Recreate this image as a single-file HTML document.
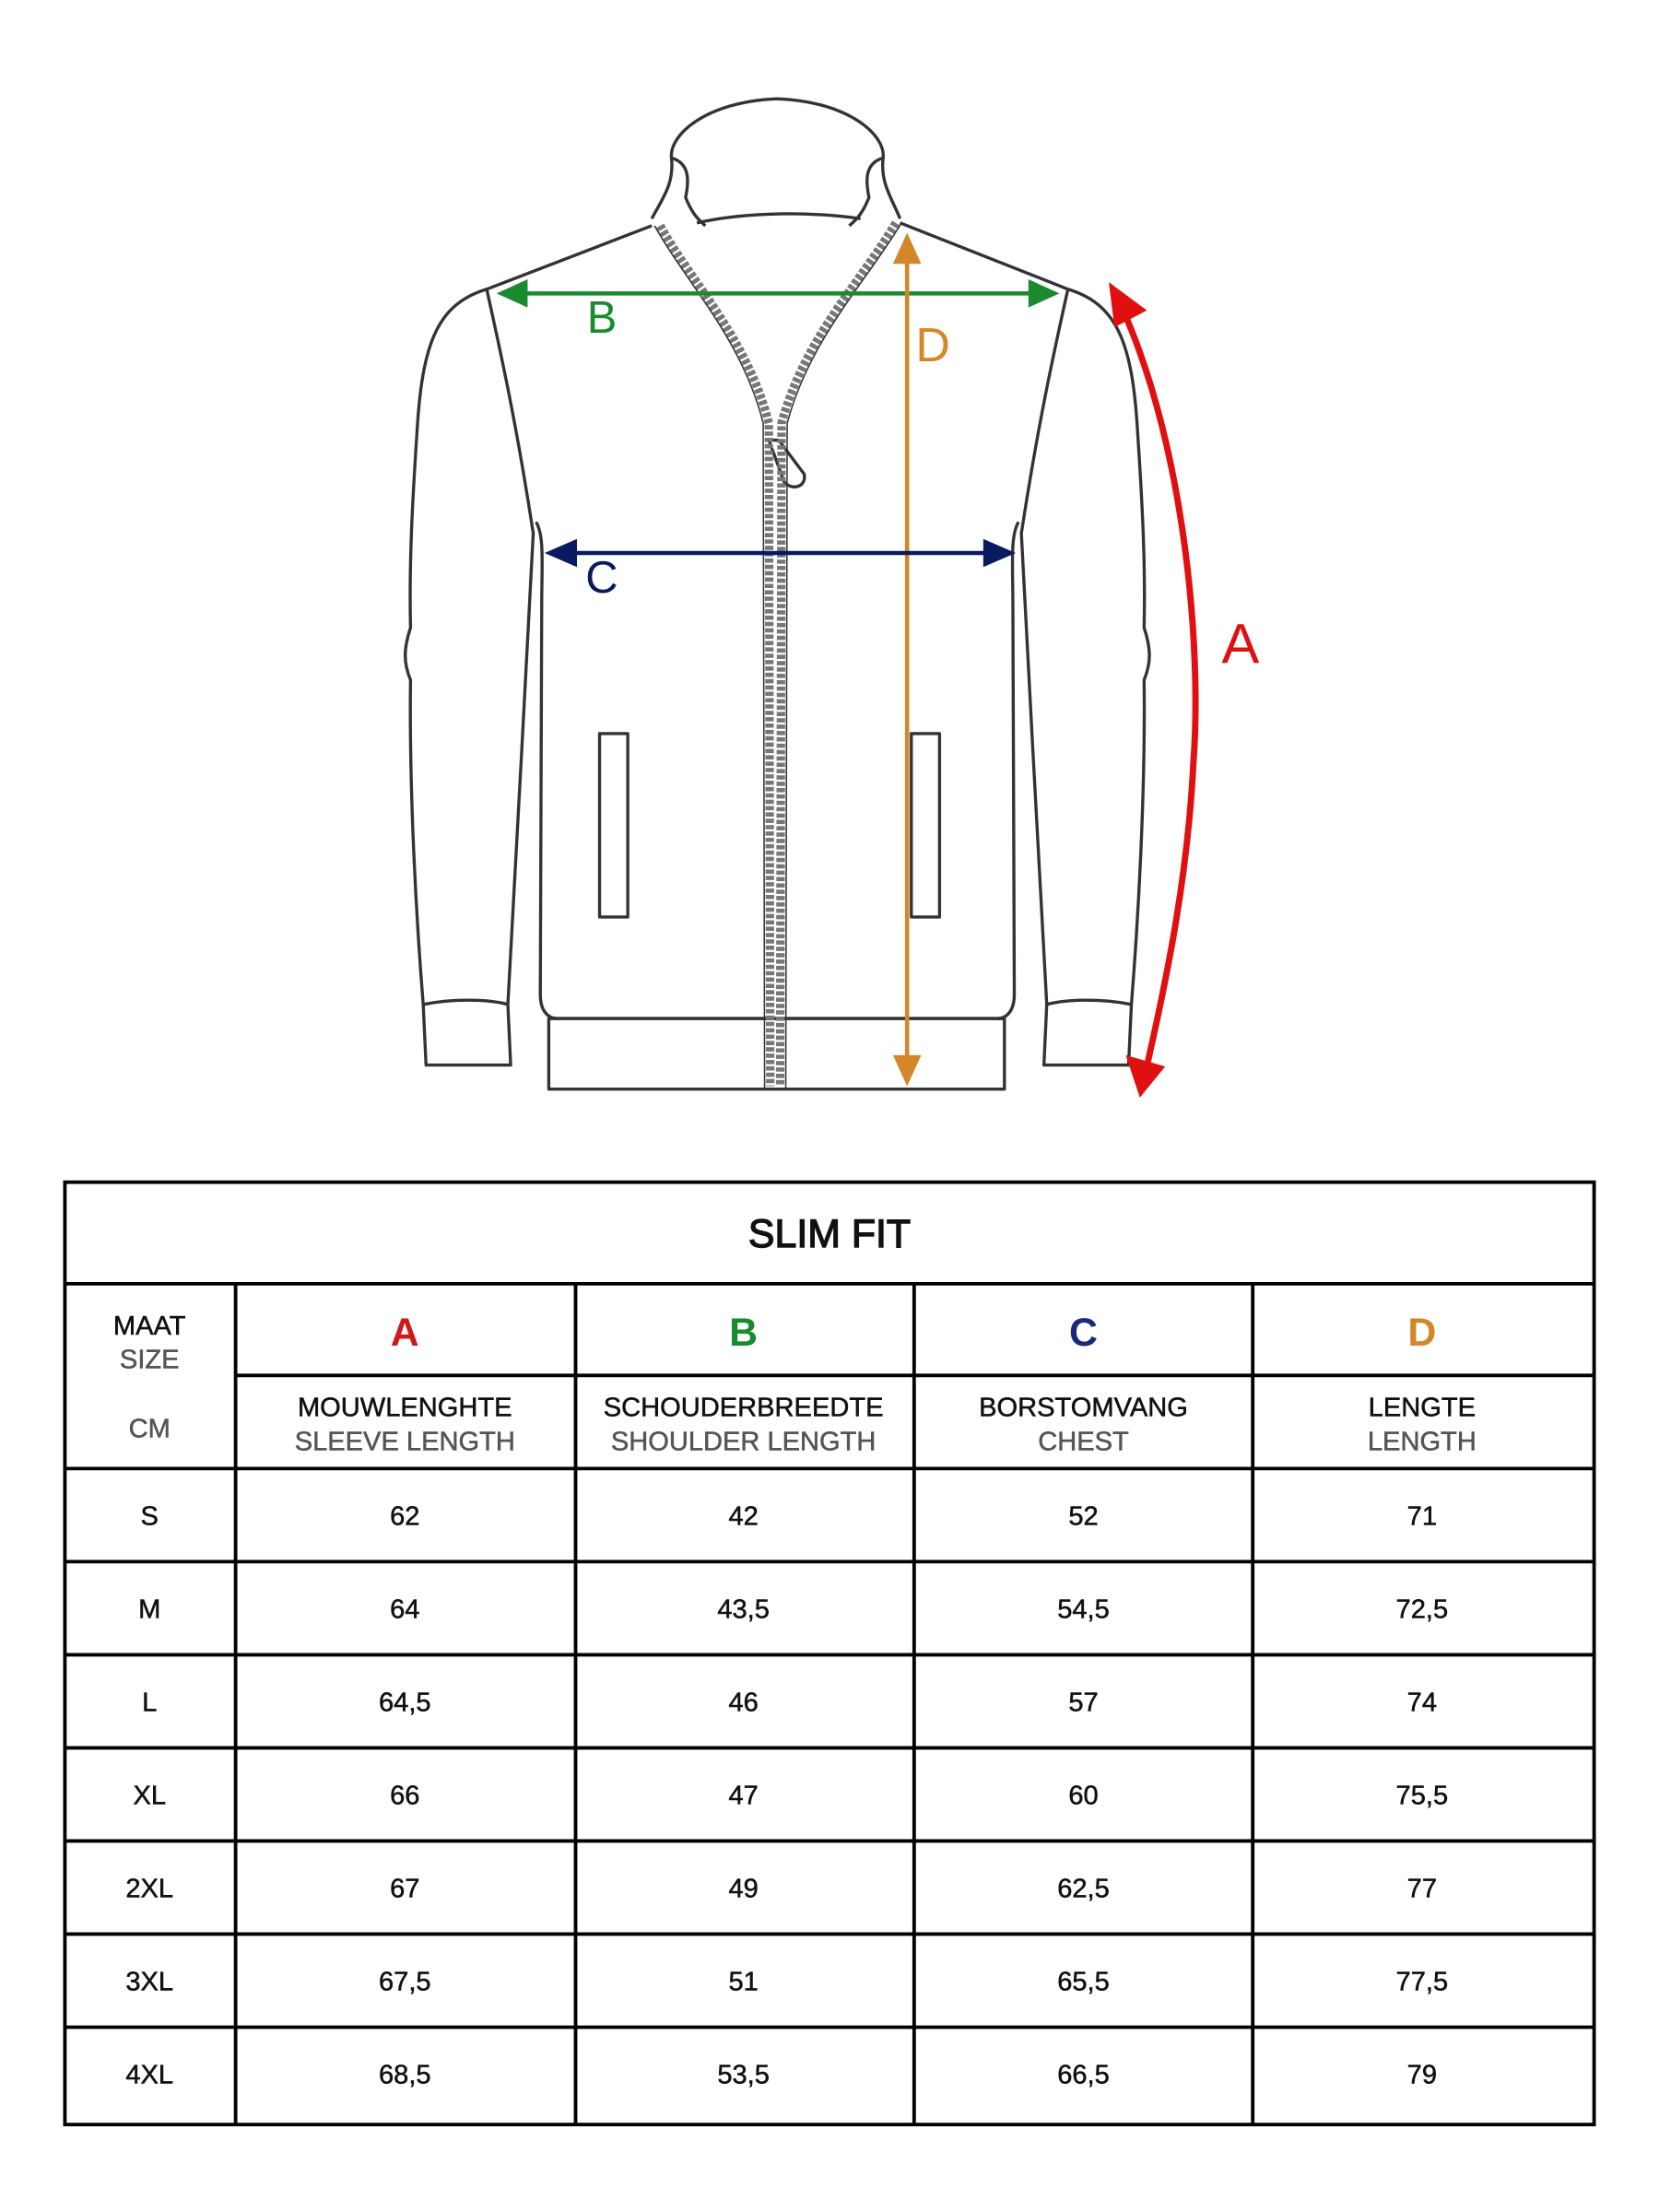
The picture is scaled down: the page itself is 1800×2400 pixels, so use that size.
<!DOCTYPE html>
<html><head><meta charset="utf-8"><style>
html,body{margin:0;padding:0;background:#fff}
svg{display:block}
text{font-family:"Liberation Sans",sans-serif}
</style></head><body>
<svg width="1800" height="2400" viewBox="0 0 1176 1568" xmlns="http://www.w3.org/2000/svg">
<rect width="1176" height="1568" fill="#fff"/>
<g fill="none" stroke="#333" stroke-width="2.2" stroke-linejoin="round">
<path d="M462,155 C470,140 478,130 476,112 C474,96 500,72 551,70 C602,72 628,96 626,112 C624,130 632,140 638,155"/>
<path d="M476,112 C490,116 488,130 486,140 C490,150 494,155 500,160"/>
<path d="M626,112 C612,116 614,130 616,140 C612,150 608,155 602,160"/>
<path d="M494,158 C530,150 575,150 610,155"/>
<path d="M462,160 L345,205"/>
<path d="M638,158 L757,205"/>
<path d="M345,205 C312,215 300,240 296,300 C292,360 290,400 291,445 C286,460 286,470 291,482 C290,560 295,650 300,712 L302,755 L362,755 L360,712 C366,620 372,480 378,378 C366,300 355,250 345,205"/>
<path d="M300,712 C320,708 345,708 360,712"/>
<path d="M757,205 C790,215 802,240 806,300 C810,360 812,400 811,445 C816,460 816,470 811,482 C812,560 807,650 802,712 L800,755 L740,755 L742,712 C736,620 730,480 724,378 C736,300 747,250 757,205"/>
<path d="M802,712 C782,708 757,708 742,712"/>
<path d="M380,370 C386,380 384,400 384,430 L383,705 C383,716 388,722 395,722"/>
<path d="M722,370 C716,380 718,400 718,430 L719,705 C719,716 714,722 707,722"/>
<path d="M390,722 L712,722"/>
<rect x="389" y="722" width="323" height="50"/>
<rect x="425" y="520" width="20" height="130"/>
<rect x="646" y="520" width="20" height="130"/>
<path d="M545,312 L552,312 L570,336 C572,345 562,348 556,342 Z"/>
</g>
<g fill="none" stroke="#777" stroke-width="6" stroke-dasharray="3 1.5">
<path d="M468,160 C490,200 530,240 545,300 L546,770"/>
<path d="M635,158 C610,200 570,240 554,300 L553,770"/>
</g>
<g fill="none" stroke="#333" stroke-width="1">
<path d="M464,160 C486,200 526,240 541,300 L542,772"/>
<path d="M639,158 C614,200 574,240 558,300 L557,772"/>
</g>
<line x1="365" y1="208" x2="738" y2="208" stroke="#1a8a2e" stroke-width="3"/>
<polygon points="352,208 374,198 374,218" fill="#1a8a2e"/>
<polygon points="751,208 729,198 729,218" fill="#1a8a2e"/>
<text x="416" y="236" font-size="32" fill="#1a8a2e">B</text>
<line x1="643" y1="178" x2="643" y2="758" stroke="#d4862a" stroke-width="3"/>
<polygon points="643,165 633,187 653,187" fill="#d4862a"/>
<polygon points="643,770 633,748 653,748" fill="#d4862a"/>
<text x="649" y="256" font-size="34" fill="#d4862a">D</text>
<line x1="400" y1="392" x2="708" y2="392" stroke="#0a1a5e" stroke-width="3"/>
<polygon points="386,392 409,382 409,402" fill="#0a1a5e"/>
<polygon points="720,392 697,382 697,402" fill="#0a1a5e"/>
<text x="415" y="420" font-size="32" fill="#0a1a5e">C</text>
<path d="M797,222 C840,320 852,460 846,540 C842,620 828,690 812,760" fill="none" stroke="#e01010" stroke-width="4.5"/>
<polygon points="786,200 813,220 790,232" fill="#e01010"/>
<polygon points="808,778 798,748 826,756" fill="#e01010"/>
<text x="866" y="470" font-size="40" fill="#e01010">A</text>
<g stroke="#000" stroke-width="2.5" fill="none">
<rect x="46" y="838" width="1084" height="668"/>
<line x1="46" y1="910" x2="1130" y2="910"/>
<line x1="167" y1="975" x2="1130" y2="975"/>
<line x1="46" y1="1041" x2="1130" y2="1041"/>
<line x1="46" y1="1107" x2="1130" y2="1107"/>
<line x1="46" y1="1173" x2="1130" y2="1173"/>
<line x1="46" y1="1239" x2="1130" y2="1239"/>
<line x1="46" y1="1305" x2="1130" y2="1305"/>
<line x1="46" y1="1371" x2="1130" y2="1371"/>
<line x1="46" y1="1437" x2="1130" y2="1437"/>
<line x1="167" y1="910" x2="167" y2="1506"/>
<line x1="408" y1="910" x2="408" y2="1506"/>
<line x1="648" y1="910" x2="648" y2="1506"/>
<line x1="888" y1="910" x2="888" y2="1506"/>
</g>
<g text-anchor="middle" font-size="19" fill="#111" stroke="#111" stroke-width="0.35">
<text x="588" y="884" font-size="28" stroke-width="0.9">SLIM FIT</text>
<text x="106" y="946">MAAT</text>
<text x="106" y="970" fill="#555" stroke="#555">SIZE</text>
<text x="106" y="1019" fill="#555" stroke="#555">CM</text>
<text x="287" y="954" font-size="28" font-weight="bold" fill="#d01818" stroke="none">A</text>
<text x="527" y="954" font-size="28" font-weight="bold" fill="#1a8a2e" stroke="none">B</text>
<text x="768" y="954" font-size="28" font-weight="bold" fill="#1a2a7a" stroke="none">C</text>
<text x="1008" y="954" font-size="28" font-weight="bold" fill="#d4862a" stroke="none">D</text>
<text x="287" y="1004">MOUWLENGHTE</text>
<text x="287" y="1028" fill="#555" stroke="#555">SLEEVE LENGTH</text>
<text x="527" y="1004">SCHOUDERBREEDTE</text>
<text x="527" y="1028" fill="#555" stroke="#555">SHOULDER LENGTH</text>
<text x="768" y="1004">BORSTOMVANG</text>
<text x="768" y="1028" fill="#555" stroke="#555">CHEST</text>
<text x="1008" y="1004">LENGTE</text>
<text x="1008" y="1028" fill="#555" stroke="#555">LENGTH</text>
<text x="106" y="1081">S</text><text x="287" y="1081">62</text><text x="527" y="1081">42</text><text x="768" y="1081">52</text><text x="1008" y="1081">71</text>
<text x="106" y="1147">M</text><text x="287" y="1147">64</text><text x="527" y="1147">43,5</text><text x="768" y="1147">54,5</text><text x="1008" y="1147">72,5</text>
<text x="106" y="1213">L</text><text x="287" y="1213">64,5</text><text x="527" y="1213">46</text><text x="768" y="1213">57</text><text x="1008" y="1213">74</text>
<text x="106" y="1279">XL</text><text x="287" y="1279">66</text><text x="527" y="1279">47</text><text x="768" y="1279">60</text><text x="1008" y="1279">75,5</text>
<text x="106" y="1345">2XL</text><text x="287" y="1345">67</text><text x="527" y="1345">49</text><text x="768" y="1345">62,5</text><text x="1008" y="1345">77</text>
<text x="106" y="1411">3XL</text><text x="287" y="1411">67,5</text><text x="527" y="1411">51</text><text x="768" y="1411">65,5</text><text x="1008" y="1411">77,5</text>
<text x="106" y="1477">4XL</text><text x="287" y="1477">68,5</text><text x="527" y="1477">53,5</text><text x="768" y="1477">66,5</text><text x="1008" y="1477">79</text>
</g>
</svg>
</body></html>
